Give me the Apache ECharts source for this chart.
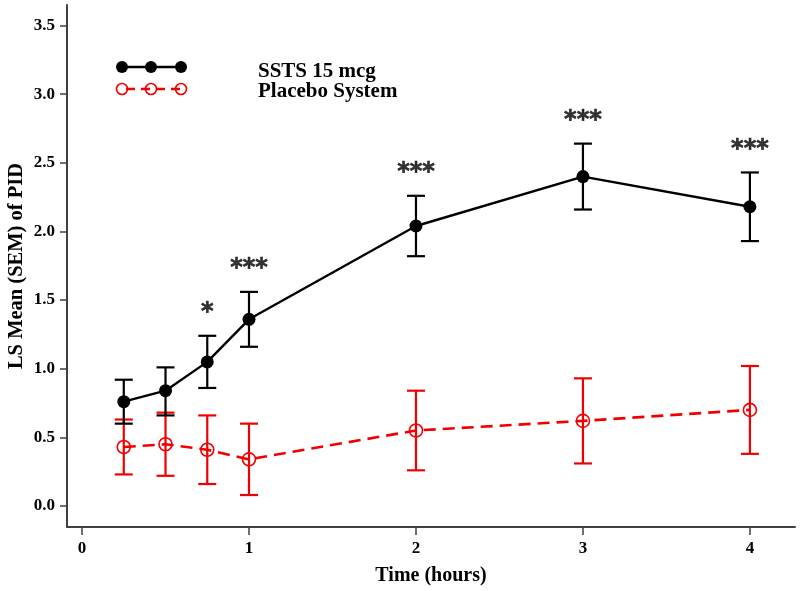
<!DOCTYPE html>
<html>
<head>
<meta charset="utf-8">
<script src="https://cdn.jsdelivr.net/npm/echarts@6/dist/echarts.min.js"></script>
<style>html,body{margin:0;padding:0;background:#fff;}#c{width:800px;height:591px;}</style>
</head>
<body>
<div id="c"></div>
<script>
var times = [0.25, 0.5, 0.75, 1, 2, 3, 4];
var sstsMean = [0.76, 0.84, 1.05, 1.36, 2.04, 2.40, 2.18];
var sstsLower = [0.60, 0.66, 0.86, 1.16, 1.82, 2.16, 1.93];
var sstsUpper = [0.92, 1.01, 1.24, 1.56, 2.26, 2.64, 2.43];
var placeboMean = [0.43, 0.45, 0.41, 0.34, 0.55, 0.62, 0.70];
var placeboLower = [0.23, 0.22, 0.16, 0.08, 0.26, 0.31, 0.38];
var placeboUpper = [0.63, 0.68, 0.66, 0.60, 0.84, 0.93, 1.02];
var sigLabels = ['', '', '*', '***', '***', '***', '***'];
var xTicks = [0, 1, 2, 3, 4];
var yTicks = [0, 0.5, 1.0, 1.5, 2.0, 2.5, 3.0, 3.5];
var seriesNames = ['SSTS 15 mcg', 'Placebo System'];

var SERIF = '"Liberation Serif", "Times New Roman", serif';
var AXIS_COLOR = '#404040';
var BLACK = '#000000';
var RED = '#f00000';

function pairs(xs, ys) { return xs.map(function (x, i) { return [x, ys[i]]; }); }
function triples(xs, lo, hi) { return xs.map(function (x, i) { return [x, lo[i], hi[i]]; }); }

function errorBar(color) {
  return function (params, api) {
    var x = api.value(0);
    var lo = api.coord([x, api.value(1)]);
    var hi = api.coord([x, api.value(2)]);
    var hw = 9;
    var st = { stroke: color, lineWidth: 2.2 };
    return {
      type: 'group',
      children: [
        { type: 'line', shape: { x1: lo[0], y1: lo[1], x2: hi[0], y2: hi[1] }, style: st },
        { type: 'line', shape: { x1: lo[0] - hw, y1: lo[1], x2: lo[0] + hw, y2: lo[1] }, style: st },
        { type: 'line', shape: { x1: hi[0] - hw, y1: hi[1], x2: hi[0] + hw, y2: hi[1] }, style: st }
      ]
    };
  };
}

var chart = echarts.init(document.getElementById('c'), null, { renderer: 'canvas' });

var legX = [122, 151, 181];
var option = {
  animation: false,
  backgroundColor: '#ffffff',
  grid: { left: 67, right: 5, top: 5, bottom: 64, containLabel: false, outerBoundsMode: 'none' },
  xAxis: {
    type: 'value', min: -0.09, max: 4.27,
    name: 'Time (hours)', nameLocation: 'middle', nameGap: 39, nameMoveOverlap: false,
    nameTextStyle: { fontFamily: SERIF, fontWeight: 'bold', fontSize: 20, color: '#000' },
    axisLine: { show: true, onZero: false, lineStyle: { color: AXIS_COLOR, width: 2 } },
    axisTick: { show: true, length: 8, customValues: xTicks, lineStyle: { color: AXIS_COLOR, width: 1.5 } },
    axisLabel: { customValues: xTicks, margin: 13, fontFamily: SERIF, fontWeight: 'bold', fontSize: 17, color: '#000',
      formatter: function (v) { return String(v); } },
    splitLine: { show: false }
  },
  yAxis: {
    type: 'value', min: -0.153, max: 3.65,
    name: 'LS Mean (SEM) of PID', nameLocation: 'middle', nameGap: 40, nameMoveOverlap: false,
    nameTextStyle: { fontFamily: SERIF, fontWeight: 'bold', fontSize: 20.5, color: '#000' },
    axisLine: { show: true, onZero: false, lineStyle: { color: AXIS_COLOR, width: 2 } },
    axisTick: { show: true, length: 7, customValues: yTicks, lineStyle: { color: AXIS_COLOR, width: 1.5 } },
    axisLabel: { customValues: yTicks, margin: 12, fontFamily: SERIF, fontWeight: 'bold', fontSize: 17, color: '#000',
      formatter: function (v) { return v.toFixed(1); } },
    splitLine: { show: false }
  },
  series: [
    {
      type: 'custom', name: 'placeboErr', renderItem: errorBar(RED),
      data: triples(times, placeboLower, placeboUpper), encode: { x: 0, y: [1, 2] }, z: 2, silent: true
    },
    {
      type: 'custom', name: 'sstsErr', renderItem: errorBar(BLACK),
      data: triples(times, sstsLower, sstsUpper), encode: { x: 0, y: [1, 2] }, z: 2, silent: true
    },
    {
      type: 'line', name: seriesNames[1], data: pairs(times, placeboMean), z: 3,
      symbol: 'circle', symbolSize: 13, showAllSymbol: true,
      lineStyle: { color: RED, width: 2.6, type: [12, 7] },
      itemStyle: { color: 'rgba(0,0,0,0)', borderColor: RED, borderWidth: 1.6 }
    },
    {
      type: 'line', name: seriesNames[0], data: pairs(times, sstsMean), z: 4,
      symbol: 'circle', symbolSize: 13, showAllSymbol: true,
      lineStyle: { color: BLACK, width: 2.4 },
      itemStyle: { color: BLACK, borderColor: BLACK, borderWidth: 0 }
    },
    {
      type: 'scatter', name: 'sig', data: pairs(times, sstsUpper), symbolSize: 0, z: 5, silent: true,
      label: {
        show: true, position: 'top', distance: 11,
        fontFamily: '"DejaVu Sans", sans-serif', fontWeight: 'bold', fontSize: 24, color: '#000',
        textBorderColor: '#000', textBorderWidth: 0.6,
        formatter: function (p) { return sigLabels[p.dataIndex]; }
      }
    }
  ],
  graphic: [
    { type: 'line', shape: { x1: legX[0] - 5, y1: 67, x2: legX[2] + 5, y2: 67 }, style: { stroke: BLACK, lineWidth: 2.4 } },
    { type: 'circle', shape: { cx: legX[0], cy: 67, r: 6 }, style: { fill: BLACK } },
    { type: 'circle', shape: { cx: legX[1], cy: 67, r: 6 }, style: { fill: BLACK } },
    { type: 'circle', shape: { cx: legX[2], cy: 67, r: 6 }, style: { fill: BLACK } },
    { type: 'line', shape: { x1: legX[0], y1: 89, x2: legX[2], y2: 89 }, style: { stroke: RED, lineWidth: 2.6, lineDash: [9, 6], lineDashOffset: -4 } },
    { type: 'circle', shape: { cx: legX[0], cy: 89, r: 5.5 }, style: { fill: 'none', stroke: RED, lineWidth: 1.6 } },
    { type: 'circle', shape: { cx: legX[1], cy: 89, r: 5.5 }, style: { fill: 'none', stroke: RED, lineWidth: 1.6 } },
    { type: 'circle', shape: { cx: legX[2], cy: 89, r: 5.5 }, style: { fill: 'none', stroke: RED, lineWidth: 1.6 } },
    { type: 'text', left: 258, top: 61, style: { text: seriesNames[0], font: 'bold 21px ' + SERIF, fill: '#000' } },
    { type: 'text', left: 258, top: 81, style: { text: seriesNames[1], font: 'bold 21px ' + SERIF, fill: '#000' } }
  ]
};
chart.setOption(option);
</script>
</body>
</html>
